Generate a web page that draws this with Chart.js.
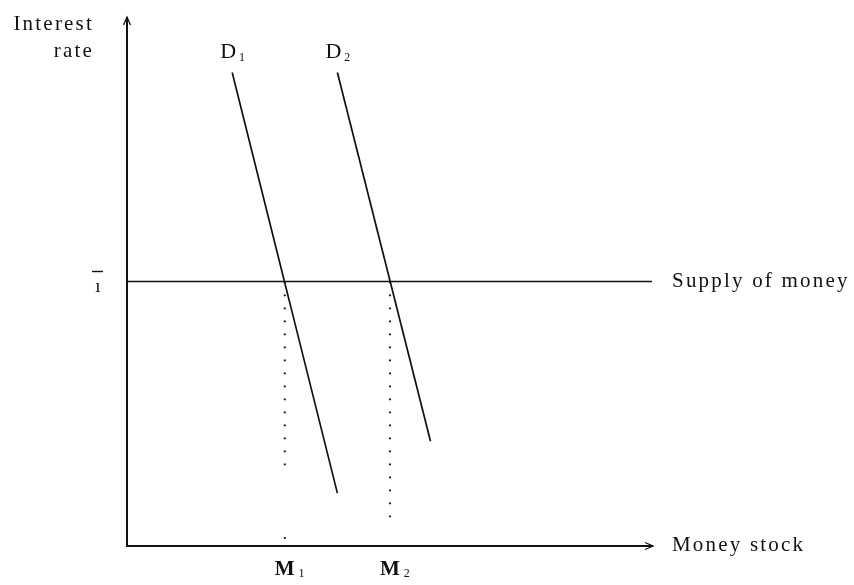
<!DOCTYPE html>
<html>
<head>
<meta charset="utf-8">
<script src="https://cdn.jsdelivr.net/npm/chart.js@4/dist/chart.umd.min.js"></script>
<style>
  html, body { margin: 0; padding: 0; background: #fff; }
  #wrap { width: 854px; height: 585px; }
</style>
</head>
<body>
<div id="wrap"><canvas id="moneyChart" width="854" height="585"></canvas></div>
<script>
// axis ranges (arbitrary units, diagram has no tick values)
const xMax = 10
const yMax = 10

// demand curves
const d1X = [2.0, 4.0]
const d1Y = [8.95, 1.0]
const d2X = [4.0, 5.77]
const d2Y = [8.95, 1.98]

// supply of money at the fixed rate i-bar
const rateLevel = 5
const supplyX = [0, 9.98]
const supplyY = [rateLevel, rateLevel]

// dotted drops to the money stock axis
const m1X = [3, 3]
const m1Y = [rateLevel, 1.4]
const m1StrayX = [3]
const m1StrayY = [0.15]
const m2X = [5, 5]
const m2Y = [rateLevel, 0.45]

const curveNames = ['D', 'D']
const curveSubs = ['1', '2']
const stockSubs = ['1', '2']

const pts = (xs, ys) => xs.map((v, i) => ({ x: v, y: ys[i] }))

const SERIF = '"Liberation Serif", "DejaVu Serif", serif'

document.addEventListener('DOMContentLoaded', () => {
  const ctx = document.querySelector('#moneyChart')

  const solid = (data) => ({
    data, showLine: true, borderColor: '#111', borderWidth: 1.7,
    pointRadius: 0, clip: false
  })
  const dotted = (data) => ({
    data, showLine: true, borderColor: '#111', borderWidth: 2,
    borderDash: [1.8, 11.2], borderCapStyle: 'butt',
    pointRadius: 0, clip: false
  })

  // axes, arrows and all the text labels
  const overlay = {
    id: 'overlay',
    afterDraw(chart) {
      const c = chart.ctx
      const { x, y } = chart.scales
      const x0 = x.getPixelForValue(0)
      const y0 = y.getPixelForValue(0)
      const xEnd = x.getPixelForValue(xMax)
      const yEnd = y.getPixelForValue(yMax)

      c.save()
      c.strokeStyle = '#111'
      c.lineWidth = 2
      c.beginPath()
      c.moveTo(x0, y0 + 1)
      c.lineTo(x0, yEnd)
      c.moveTo(x0, y0)
      c.lineTo(xEnd, y0)
      c.stroke()

      c.lineWidth = 1.3
      c.beginPath()
      c.moveTo(x0 - 3.5, yEnd + 8); c.lineTo(x0, yEnd); c.lineTo(x0 + 3.5, yEnd + 8)
      c.moveTo(xEnd - 8, y0 - 3.5); c.lineTo(xEnd, y0); c.lineTo(xEnd - 8, y0 + 3.5)
      c.stroke()

      c.fillStyle = '#111'
      c.textBaseline = 'alphabetic'
      c.letterSpacing = '2.2px'

      // y axis title
      c.font = '21px ' + SERIF
      c.textAlign = 'right'
      c.fillText('Interest', x0 - 33, yEnd + 13)
      c.fillText('rate', x0 - 33, yEnd + 40)

      // right hand labels
      c.textAlign = 'left'
      const ry = y.getPixelForValue(rateLevel)
      c.fillText('Supply of money', xEnd + 19, ry + 5)
      c.fillText('Money stock', xEnd + 19, y0 + 5)

      // i-bar: dotless i with a bar drawn above it
      c.letterSpacing = '0px'
      c.textAlign = 'center'
      c.font = '19px ' + SERIF
      c.fillText('\u0131', x0 - 29, ry + 10)
      c.lineWidth = 1.4
      c.beginPath()
      c.moveTo(x0 - 35, ry - 10)
      c.lineTo(x0 - 24, ry - 10)
      c.stroke()

      // curve names
      const tops = [[d1X[0], d1Y[0]], [d2X[0], d2Y[0]]]
      tops.forEach(([vx, vy], i) => {
        const px = x.getPixelForValue(vx)
        const py = y.getPixelForValue(vy)
        c.textAlign = 'left'
        c.font = '22px ' + SERIF
        c.fillText(curveNames[i], px - 12, py - 15)
        const w = c.measureText(curveNames[i]).width
        c.font = '12px ' + SERIF
        c.fillText(curveSubs[i], px - 12 + w + 3, py - 12)
      })

      // money stock marks
      ;[m1X[0], m2X[0]].forEach((vx, i) => {
        const px = x.getPixelForValue(vx)
        c.textAlign = 'left'
        c.font = 'bold 21px ' + SERIF
        c.fillText('M', px - 10, y0 + 29)
        const w = c.measureText('M').width
        c.font = '12px ' + SERIF
        c.fillText(stockSubs[i], px - 10 + w + 4, y0 + 31)
      })
      c.restore()
    }
  }

  new Chart(ctx, {
    type: 'scatter',
    data: {
      datasets: [
        solid(pts(supplyX, supplyY)),
        solid(pts(d1X, d1Y)),
        solid(pts(d2X, d2Y)),
        dotted(pts(m1X, m1Y)),
        dotted(pts(m2X, m2Y)),
        {
          data: pts(m1StrayX, m1StrayY), showLine: false,
          pointStyle: 'rect', pointRadius: 1.3, borderWidth: 0,
          backgroundColor: '#111', clip: false
        }
      ]
    },
    options: {
      responsive: false,
      animation: false,
      layout: { padding: { left: 127, right: 201, top: 17, bottom: 39 } },
      plugins: { legend: { display: false }, tooltip: { enabled: false } },
      scales: {
        x: { type: 'linear', display: false, min: 0, max: xMax },
        y: { type: 'linear', display: false, min: 0, max: yMax }
      }
    },
    plugins: [overlay]
  })
})
</script>
</body>
</html>
